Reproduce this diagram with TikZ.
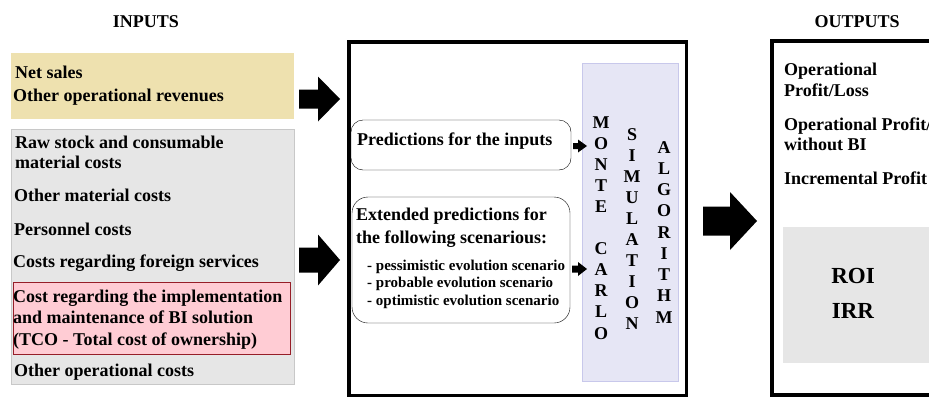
\documentclass[tikz,border=0pt]{standalone}
\usepackage{fontspec}
\setmainfont{Liberation Serif}
\usetikzlibrary{calc}

\definecolor{revyellow}{RGB}{238,225,175}
\definecolor{costgray}{RGB}{230,230,230}
\definecolor{costedge}{RGB}{200,200,200}
\definecolor{tcopink}{RGB}{255,204,212}
\definecolor{tcoedge}{RGB}{150,30,40}
\definecolor{mclilac}{RGB}{230,230,245}
\definecolor{mcedge}{RGB}{200,200,235}

% x start, x head, x tip, y, shaft half, head half
\newcommand{\blockarrow}[6]{%
  \fill (#1,#4-#5) -- (#2,#4-#5) -- (#2,#4-#6) -- (#3,#4) -- (#2,#4+#6) -- (#2,#4+#5) -- (#1,#4+#5) -- cycle;}

\begin{document}
\begin{tikzpicture}[x=1pt,y=-1pt,
    txt/.style={anchor=base west,inner sep=0pt,font=\fontsize{18}{22}\selectfont\bfseries},
    small/.style={anchor=base west,inner sep=0pt,font=\fontsize{15}{18}\selectfont\bfseries},
    title/.style={anchor=base,inner sep=0pt,font=\fontsize{18}{22}\selectfont\bfseries},
    big/.style={anchor=base,inner sep=0pt,font=\fontsize{23}{28}\selectfont\bfseries},
    letter/.style={anchor=base,inner sep=0pt,font=\fontsize{18}{20}\selectfont\bfseries},
    box/.style={anchor=north west,inner sep=0pt,outer sep=0pt}]
			\clip (0,0) rectangle (929,399);
			% inputs
			\node[title] (inputs) at (146,27) {INPUTS};
			\node[box,fill=revyellow,minimum width=283,minimum height=66] (revenues) at (11,53) {};
			\node[txt] (netsales) at (15,78) {Net sales};
			\node[txt] (otherrev) at (13,101) {Other operational revenues};
			\node[box,fill=costgray,draw=costedge,minimum width=283,minimum height=255] (costs) at (11,129) {};
			\node[box,fill=tcopink,draw=tcoedge,minimum width=277,minimum height=72] (tco) at (13,282) {};
			\node[txt] (rawstock) at (15,148) {Raw stock and consumable};
			\node[txt] (rawstock2) at (15,168) {material costs};
			\node[txt] (othermat) at (14,201) {Other material costs};
			\node[txt] (personnel) at (14,235) {Personnel costs};
			\node[txt] (foreign) at (13,267) {Costs regarding foreign services};
			\node[txt] (tco1) at (13,302) {Cost regarding the implementation};
			\node[txt] (tco2) at (13,323) {and maintenance of BI solution};
			\node[txt] (tco3) at (13,345) {(TCO - Total cost of ownership)};
			\node[txt] (otherop) at (14,376) {Other operational costs};
			\blockarrow{299}{318}{340}{99}{9.5}{22.5}
			\blockarrow{299}{318}{340}{260}{12.5}{25.5}
			% simulation
			\draw[line width=3.5pt] (348.75,41.75) rectangle (686.25,395.25);
			\node[box,fill=mclilac,draw=mcedge,minimum width=96,minimum height=318] (algo) at (582,63) {};
			\node[box,draw,rounded corners=12,minimum width=220,minimum height=50] (predbox) at (351,120) {};
			\node[txt] (pred) at (357,145) {Predictions for the inputs};
			\node[box,draw,rounded corners=16,minimum width=218,minimum height=126] (extbox) at (352,197) {};
			\node[txt] (ext1) at (356,220) {Extended predictions for};
			\node[txt] (ext2) at (356,243) {the following scenarious:};
			\node[small] (pess) at (367,270) {- pessimistic evolution scenario};
			\node[small] (prob) at (367,287) {- probable evolution scenario};
			\node[small] (opt) at (367,305) {- optimistic evolution scenario};
			\blockarrow{573}{578}{587}{146}{3}{6.5}
			\blockarrow{572}{578}{587}{269}{3.5}{7}
			\foreach \ch [count=\i from 0] in {M,O,N,T,E,{},C,A,R,L,O}
				\node[letter] (monte\i) at (601,128+21.1*\i) {\ch};
			\foreach \ch [count=\i from 0] in {S,I,M,U,L,A,T,I,O,N}
				\node[letter] (sim\i) at (632,140+21.1*\i) {\ch};
			\foreach \ch [count=\i from 0] in {A,L,G,O,R,I,T,H,M}
				\node[letter] (alg\i) at (664,153+21.25*\i) {\ch};
			\blockarrow{703}{730}{757}{221}{14.5}{29}
			% outputs
			\node[title] (outputs) at (857,27) {OUTPUTS};
			\draw[line width=4pt] (772,41) rectangle (940,395);
			\node[box,fill=costgray,minimum width=160,minimum height=136] (ratios) at (783,227) {};
			\node[txt] (oppl) at (784,75) {Operational};
			\node[txt] (oppl2) at (784,96) {Profit/Loss};
			\node[txt] (opbi) at (784,130) {Operational Profit/};
			\node[txt] (opbi2) at (784,150) {without BI};
			\node[txt] (incr) at (784,184) {Incremental Profit};
			\node[big] (roi) at (853,283) {ROI};
			\node[big] (irr) at (853,318) {IRR};
		\end{tikzpicture}
\end{document}
